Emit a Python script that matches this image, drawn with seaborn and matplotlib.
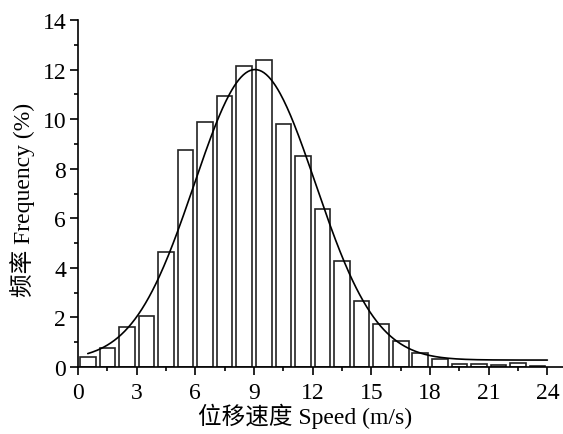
import numpy as np
import pandas as pd
import seaborn as sns
import matplotlib.pyplot as plt
from matplotlib.ticker import MultipleLocator

sns.set_theme(style="ticks")
plt.rcParams['font.family'] = ['Liberation Serif', 'Noto Sans CJK SC']

# Histogram bins (speed, m/s) and frequencies (%)
bin_centers = [0.5, 1.5, 2.5, 3.5, 4.5, 5.5, 6.5, 7.5, 8.5, 9.5, 10.5, 11.5,
               12.5, 13.5, 14.5, 15.5, 16.5, 17.5, 18.5, 19.5, 20.5, 21.5, 22.5, 23.5]
frequency = [0.40, 0.77, 1.63, 2.06, 4.64, 8.76, 9.87, 10.93, 12.15, 12.38, 9.81, 8.53,
             6.38, 4.27, 2.67, 1.72, 1.05, 0.55, 0.34, 0.12, 0.12, 0.07, 0.16, 0.04]

# Fitted Gaussian curve parameters
fit_offset = 0.28
fit_height = 11.72
fit_center = 9.05
fit_sigma = 3.1
fit_range = [0.5, 24.0]

x_ticks = [0, 3, 6, 9, 12, 15, 18, 21, 24]
y_ticks = [0, 2, 4, 6, 8, 10, 12, 14]

bars = pd.DataFrame({"speed": bin_centers, "freq": frequency})
xs = np.linspace(fit_range[0], fit_range[1], 400)
curve = pd.DataFrame({"speed": xs,
                      "freq": fit_offset + fit_height * np.exp(-(xs - fit_center) ** 2 / (2 * fit_sigma ** 2))})

fig = plt.figure(figsize=(5.63, 4.35), dpi=100)
ax = fig.add_axes([78 / 563, (435 - 368) / 435, (563 - 78) / 563, (368 - 21) / 435])

sns.barplot(data=bars, x="speed", y="freq", native_scale=True, width=0.8,
            color="white", edgecolor="#222222", linewidth=1.2, ax=ax)
sns.lineplot(data=curve, x="speed", y="freq", color="black", linewidth=1.2, ax=ax)

ax.set_xlim(0, 24.8)
ax.set_ylim(0, 14)
ax.set_xticks(x_ticks)
ax.set_yticks(y_ticks)
ax.xaxis.set_minor_locator(MultipleLocator(1.5))
ax.yaxis.set_minor_locator(MultipleLocator(1))
ax.tick_params(axis='both', which='major', direction='out', length=5.5, width=1.2,
               labelsize=17, colors='black')
ax.tick_params(axis='x', which='major', pad=5)
ax.tick_params(axis='y', which='major', pad=3)
ax.tick_params(axis='both', which='minor', direction='out', length=3, width=1.2, colors='black')
for s in ['top', 'right']:
    ax.spines[s].set_visible(False)
for s in ['left', 'bottom']:
    ax.spines[s].set_linewidth(1.2)
    ax.spines[s].set_color('black')

ax.set_xlabel("位移速度 Speed (m/s)", fontsize=17, color='black')
ax.set_ylabel("频率 Frequency (%)", fontsize=17, color='black')
ax.xaxis.set_label_coords((305 - 78) / 485, (368 - 416) / 347)
ax.yaxis.set_label_coords((23 - 78) / 485, (368 - 200) / 347)
ax.xaxis.label.set_va('center')
ax.yaxis.label.set_va('center')

fig.savefig("out.png", dpi=100)
